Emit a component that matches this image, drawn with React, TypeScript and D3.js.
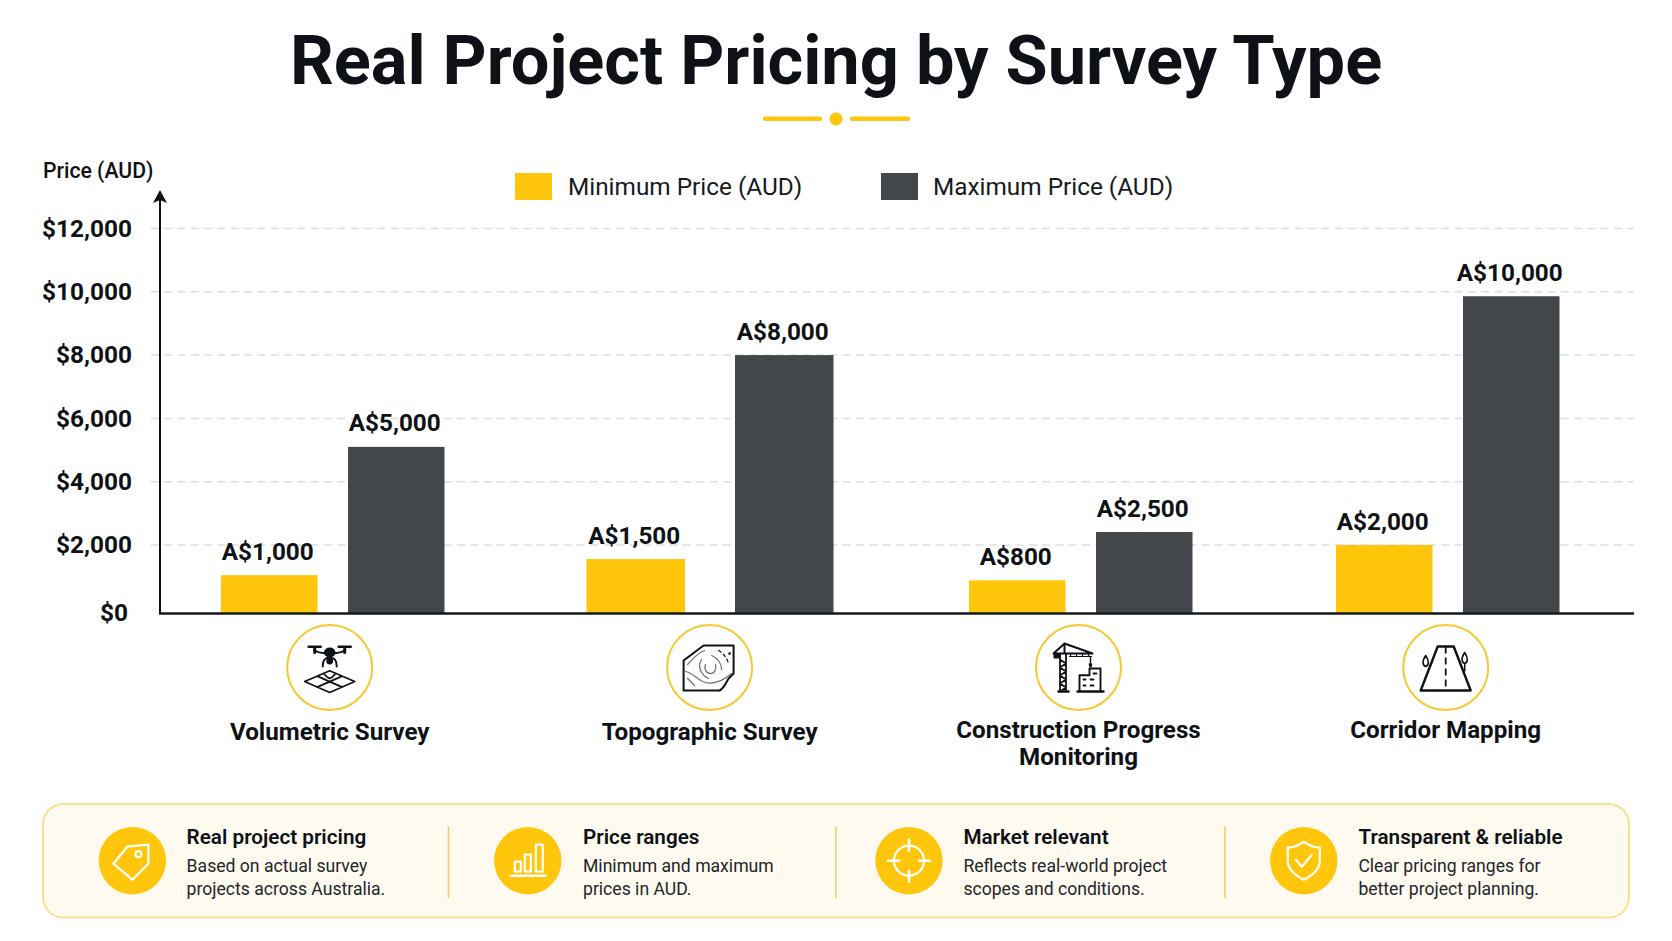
import { useEffect, useRef } from 'react';
import * as d3 from 'd3';

const categories = ['Volumetric Survey', 'Topographic Survey', 'Construction Progress Monitoring', 'Corridor Mapping'];
const categoryLines = [['Volumetric Survey'], ['Topographic Survey'], ['Construction Progress', 'Monitoring'], ['Corridor Mapping']];
// bar heights as drawn in the picture, the printed labels are rounder
const minValues = [1120, 1590, 970, 2000];
const maxValues = [5100, 8000, 2410, 9860];
const minLabels = ['A$1,000', 'A$1,500', 'A$800', 'A$2,000'];
const maxLabels = ['A$5,000', 'A$8,000', 'A$2,500', 'A$10,000'];
const yTicks = [0, 2000, 4000, 6000, 8000, 10000, 12000];
const legendLabels = ['Minimum Price (AUD)', 'Maximum Price (AUD)'];
const noteTitles = ['Real project pricing', 'Price ranges', 'Market relevant', 'Transparent & reliable'];
const noteLines = [
  ['Based on actual survey', 'projects across Australia.'],
  ['Minimum and maximum', 'prices in AUD.'],
  ['Reflects real-world project', 'scopes and conditions.'],
  ['Clear pricing ranges for', 'better project planning.'],
];

const YELLOW = '#FFC60B';
const DARK = '#43474B';
const INK = '#0E1116';
const FONT = 'Roboto, sans-serif';

type G = d3.Selection<SVGGElement, unknown, null, undefined>;

// black icons in the category circles, drawn around the circle centre
const drawDrone = (g: G) => {
  const s = g.append('g').attr('fill', 'none').attr('stroke', INK).attr('stroke-linecap', 'round');
  s.append('path').attr('stroke-width', 2.6).attr('d', 'M-21,-20.7H-9M9,-20.7H21');
  s.append('path').attr('stroke-width', 3).attr('d', 'M-15,-20V-15M15,-20V-15');
  s.append('path').attr('stroke-width', 2).attr('d', 'M-15,-17C-10,-14 -6,-14 -3,-15M15,-17C10,-14 6,-14 3,-15');
  s.append('path').attr('stroke-width', 2).attr('d', 'M-7,-1C-7,-6 -6,-10 0,-10C6,-10 7,-6 7,-1');
  g.append('ellipse').attr('cy', -15).attr('rx', 5.8).attr('ry', 5).attr('fill', INK);
  g.append('circle').attr('cy', -6.5).attr('r', 3.4).attr('fill', INK);
  s.append('path').attr('stroke-width', 1.7).attr('stroke-linejoin', 'round')
    .attr('d', 'M0,3.3L25,14L0,25L-25,14ZM-12.5,8.6L12.5,19.6M12.5,8.6L-12.5,19.6M-6,6L-3,9.2L0,11L3,9.2L6,6');
};

const drawTopo = (g: G) => {
  g.append('path').attr('fill', 'none').attr('stroke', INK).attr('stroke-width', 2).attr('stroke-linejoin', 'round')
    .attr('d', 'M-26,-7L-6,-22H24V6L19,11C16,16 14,21 10,23H-26Z');
  const s = g.append('g').attr('fill', 'none').attr('stroke', '#6a6d70').attr('stroke-width', 1.2).attr('stroke-linecap', 'round');
  s.append('path').attr('d', 'M-4,-3C-6,2 -3,6 1,6C5,6 7,2 6,-3');
  s.append('path').attr('d', 'M-8,-8C-13,-1 -8,8 -1,11');
  s.append('path').attr('d', 'M-22,-3C-16,-9 -12,-15 -5,-17');
  s.append('path').attr('d', 'M-24,4C-18,5 -13,11 -7,14C0,17 10,16 22,6');
  s.append('path').attr('d', 'M-22,11L-15,18M2,-12C9,-9 12,-3 12,2');
  s.append('path').attr('stroke', INK).attr('stroke-dasharray', '3 3').attr('d', 'M9,-17C14,-14 18,-9 19,-3');
  g.append('circle').attr('cx', 20).attr('cy', -14).attr('r', 1.3).attr('fill', INK);
};

const drawCrane = (g: G) => {
  const s = g.append('g').attr('fill', 'none').attr('stroke', INK).attr('stroke-linecap', 'round').attr('stroke-linejoin', 'round');
  s.append('path').attr('stroke-width', 1.8).attr('d', 'M-18.5,-13V24M-12.5,-13V24M-18.5,-8L-12.5,-4L-18.5,0L-12.5,4L-18.5,8L-12.5,12L-18.5,16L-12.5,20L-18.5,24');
  s.append('path').attr('stroke-width', 2).attr('d', 'M-25,-14H14M-14,-24L-25,-14M-14,-24L14,-14M-14,-24V-14');
  s.append('path').attr('stroke-width', 1.2).attr('d', 'M-8,-14V-11M-2,-14V-11M4,-14V-11M10,-14V-11M-9,-11H13');
  g.append('rect').attr('x', -25).attr('y', -14).attr('width', 7).attr('height', 5).attr('fill', INK);
  s.append('path').attr('stroke-width', 1.4).attr('d', 'M12,-11V-3');
  g.append('path').attr('fill', INK).attr('d', 'M10,-4H14L13,0H11Z');
  s.append('path').attr('stroke-width', 2.4).attr('d', 'M-20,24H-10M-1,24H25');
  s.append('path').attr('stroke-width', 1.9).attr('d', 'M1,24V7.7H11V1H22V24');
  s.append('path').attr('stroke-width', 1.8).attr('d', 'M5,12H7M12,12H15M5,18H7M12,18H15M15,6H18');
};

const drawRoad = (g: G) => {
  const s = g.append('g').attr('fill', 'none').attr('stroke', INK).attr('stroke-linejoin', 'round');
  s.append('path').attr('stroke-width', 2.4).attr('d', 'M-25,23L-8,-21H8L25,23Z');
  s.append('path').attr('stroke-width', 1.8).attr('stroke-dasharray', '7 4').attr('d', 'M0,-21V23');
  s.append('path').attr('stroke-width', 1.6).attr('d', 'M-20,-12C-24,-6 -23,-2 -20,-1C-17,-2 -16,-6 -20,-12ZM19,-15C15,-9 16,-5 19,-4C22,-5 23,-9 19,-15ZM19,-4V4');
};

// white icons in the note row
const drawTag = (g: G) => {
  g.append('path').attr('d', 'M16,-16L-5,-14L-19,3L0,19L16,3Z');
  g.append('circle').attr('cx', 6).attr('cy', -6.5).attr('r', 3);
};
const drawBars = (g: G) => {
  g.append('path').attr('d', 'M-13,1H-7V11H-13ZM-3,-6H3V11H-3ZM8,-16H15V11H8Z');
  g.append('path').attr('stroke-width', 2.6).attr('d', 'M-17,15H18');
};
const drawTarget = (g: G) => {
  g.append('circle').attr('r', 15);
  g.append('path').attr('stroke-width', 2.6).attr('d', 'M0,-21V-10M0,10V21M-21,0H-10M10,0H21');
};
const drawShield = (g: G) => {
  g.append('path').attr('d', 'M0,-19C5,-15 10,-13 16,-13V0C16,9 8,15 0,19C-8,15 -16,9 -16,0V-13C-10,-13 -5,-15 0,-19Z');
  g.append('path').attr('d', 'M-8,-1L-2,6L8,-6');
};

const categoryIcons = [drawDrone, drawTopo, drawCrane, drawRoad];
const noteIcons = [drawTag, drawBars, drawTarget, drawShield];

export default function App() {
  const svgRef = useRef<SVGSVGElement>(null);

  useEffect(() => {
    if (!svgRef.current) return;
    const svg = d3.select(svgRef.current);
    svg.selectAll('*').remove();
    svg.style('font-family', FONT);

    const axisX = 160;
    const rightX = 1634;

    // Scales, the picture has a taller first step and hand-spaced groups
    const y = d3.scaleLinear().domain([0, 2000, 12000]).range([613.5, 545, 228.5]);
    const xMin = d3.scaleOrdinal<string, number>().domain(categories).range([221, 586.5, 969, 1336]);
    const xMax = d3.scaleOrdinal<string, number>().domain(categories).range([348, 735, 1096, 1463]);
    const xCenter = d3.scaleOrdinal<string, number>().domain(categories).range([329.7, 709.6, 1078.5, 1445.7]);
    const barW = d3.scaleOrdinal<string, number>().domain(categories).range([96.5, 98.5, 96.5, 96.5]);

    const rows = categories.map((c, i) => ({
      c, lines: categoryLines[i], min: minValues[i], max: maxValues[i], minLabel: minLabels[i], maxLabel: maxLabels[i], i,
    }));

    // Title
    svg.append('text').attr('x', 836).attr('y', 84).attr('text-anchor', 'middle')
      .style('font-size', '68.5px').style('font-weight', 700).style('fill', INK)
      .text('Real Project Pricing by Survey Type');
    const deco = svg.append('g').attr('fill', YELLOW);
    deco.append('rect').attr('x', 763).attr('y', 116.5).attr('width', 59).attr('height', 4.5).attr('rx', 2);
    deco.append('rect').attr('x', 850).attr('y', 116.5).attr('width', 60).attr('height', 4.5).attr('rx', 2);
    deco.append('circle').attr('cx', 836).attr('cy', 119).attr('r', 6.5);

    // Grid lines
    svg.append('g').selectAll('line')
      .data(yTicks.filter(d => d > 0))
      .join('line')
      .attr('x1', 151).attr('x2', rightX)
      .attr('y1', d => y(d)).attr('y2', d => y(d))
      .attr('stroke', '#DEDEDE').attr('stroke-width', 1.5).attr('stroke-dasharray', '8 5.3');

    // Y axis labels
    const yAxis = svg.append('g').attr('transform', `translate(${axisX},0)`)
      .call(d3.axisLeft(y).tickValues(yTicks).tickSize(0).tickPadding(28)
        .tickFormat(d => `$${d3.format(',')(Number(d))}`));
    yAxis.select('.domain').remove();
    yAxis.selectAll('text').style('font-size', '24.4px').style('font-weight', 700)
      .style('font-family', FONT).style('fill', INK);
    yAxis.selectAll<SVGTextElement, number>('text').filter(d => d === 0).attr('dx', -4).attr('y', -1);

    svg.append('text').attr('x', 43).attr('y', 178).style('font-size', '21.2px').style('font-weight', 500)
      .style('fill', INK).text('Price (AUD)');

    // Legend
    const legend = svg.append('g');
    [515, 881].forEach((lx, i) => {
      legend.append('rect').attr('x', lx).attr('y', 173).attr('width', 37).attr('height', 27).attr('fill', i ? DARK : YELLOW);
      legend.append('text').attr('x', lx + (i ? 52 : 53)).attr('y', 195).style('font-size', '24.35px').style('fill', '#16191d').text(legendLabels[i]);
    });

    // Bars
    svg.append('g').selectAll('rect').data(rows).join('rect')
      .attr('x', d => xMin(d.c)).attr('y', d => y(d.min))
      .attr('width', d => barW(d.c)).attr('height', d => y(0) - y(d.min)).attr('fill', YELLOW);
    svg.append('g').selectAll('rect').data(rows).join('rect')
      .attr('x', d => xMax(d.c)).attr('y', d => y(d.max))
      .attr('width', d => barW(d.c)).attr('height', d => y(0) - y(d.max)).attr('fill', DARK);

    // Value labels
    const valueText = (sel: any) => sel
      .attr('text-anchor', 'middle').style('font-size', '24.3px').style('font-weight', 700).style('fill', INK);
    svg.append('g').selectAll('text').data(rows).join('text')
      .attr('x', d => xMin(d.c) + barW(d.c) / 2 - 1.5).attr('y', d => y(d.min) - 15.5)
      .call(valueText).text(d => d.minLabel);
    svg.append('g').selectAll('text').data(rows).join('text')
      .attr('x', d => xMax(d.c) + barW(d.c) / 2 - 1.5).attr('y', d => y(d.max) - 15.5)
      .call(valueText).text(d => d.maxLabel);

    // Axis lines and arrow head
    svg.append('line').attr('x1', axisX).attr('x2', axisX).attr('y1', 198).attr('y2', 614).attr('stroke', INK).attr('stroke-width', 2);
    svg.append('path').attr('d', `M${axisX},190L${axisX + 7},203L${axisX},200L${axisX - 7},203Z`).attr('fill', INK);
    svg.append('line').attr('x1', axisX - 1).attr('x2', rightX).attr('y1', y(0)).attr('y2', y(0)).attr('stroke', '#15181c').attr('stroke-width', 2.5);

    // Category icons and names
    rows.forEach(d => {
      const cg = svg.append('g').attr('transform', `translate(${xCenter(d.c)},667.5)`);
      cg.append('circle').attr('r', 42.5).attr('fill', '#fff').attr('stroke', '#F8C832').attr('stroke-width', 2);
      categoryIcons[d.i](cg as unknown as G);
      const baseY = d.i < 2 ? 740 : 738;
      d.lines.forEach((line, li) => {
        svg.append('text').attr('x', xCenter(d.c)).attr('y', baseY + li * 27)
          .attr('text-anchor', 'middle').style('font-size', '24.2px').style('font-weight', 700).style('fill', INK)
          .text(line);
      });
    });

    // Note panel
    svg.append('rect').attr('x', 43).attr('y', 804).attr('width', 1586).attr('height', 113.5).attr('rx', 20)
      .attr('fill', '#FEFAF0').attr('stroke', '#FAE18E').attr('stroke-width', 2);
    [448.4, 835.8, 1225].forEach(dx => {
      svg.append('line').attr('x1', dx).attr('x2', dx).attr('y1', 826.5).attr('y2', 898)
        .attr('stroke', '#EFC967').attr('stroke-width', 1.5);
    });
    const noteCx = [132.4, 527.8, 909, 1303.8];
    const noteTx = [186.6, 583, 963.4, 1358.4];
    noteTitles.forEach((title, i) => {
      const ng = svg.append('g').attr('transform', `translate(${noteCx[i]},860.7)`);
      ng.append('circle').attr('r', 33.7).attr('fill', YELLOW);
      const ic = ng.append('g').attr('fill', 'none').attr('stroke', '#fff').attr('stroke-width', 2.2)
        .attr('stroke-linejoin', 'round').attr('stroke-linecap', 'round');
      noteIcons[i](ic as unknown as G);
      svg.append('text').attr('x', noteTx[i]).attr('y', 844).style('font-size', '20.7px').style('font-weight', 600)
        .style('fill', INK).text(title);
      noteLines[i].forEach((line, li) => {
        svg.append('text').attr('x', noteTx[i]).attr('y', 872 + li * 23).style('font-size', '17.6px')
          .style('fill', '#22252a').text(line);
      });
    });
  }, []);

  return (
    <svg ref={svgRef} width={1672} height={941}
      style={{ position: 'absolute', left: 0, top: 0, background: '#fff', display: 'block' }} />
  );
}
